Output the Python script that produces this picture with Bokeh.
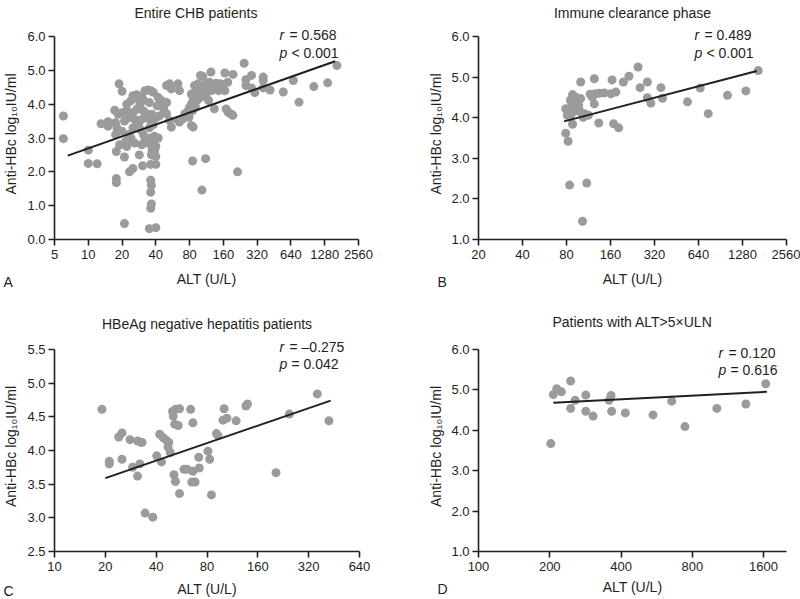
import math
from bokeh.plotting import figure
from bokeh.layouts import column, row
from bokeh.models import Label, Title, FixedTicker, PrintfTickFormatter, Range1d
from bokeh.embed import file_html
from bokeh.resources import INLINE

FONT = "Liberation Sans"
PT = "#9b9b9b"
INK = "#231f20"

# ---------------- Panel A: Entire CHB patients ----------------
alt_a = [6.0, 6.0, 10.0, 10.0, 12.0, 13.0, 15.0, 15.0, 17.2, 17.5, 17.8, 17.8, 17.8,
         18.8, 20.0, 21.0, 21.0, 22.0, 23.3, 25.0, 28.5, 30.5, 35.0, 36.0, 36.0, 36.5,
         36.0, 36.5, 36.0, 40.0, 40.0, 39.0, 40.0, 22.5,
         25, 27, 30, 32, 34, 36, 38, 42, 45, 28,
         22, 24, 29, 31, 35, 41, 44, 47, 20,
         18.5, 22, 25, 27, 31, 33, 37, 40, 43,
         17.5, 21, 23, 26, 28, 30, 34, 36, 38,
         18, 20, 23, 25, 29, 31, 35, 39, 42,
         19, 21.5, 24, 26, 30, 32, 34, 36, 38, 40, 36.5, 37,
         47, 50,
         49.8, 53, 63, 55, 65, 88.5, 100, 105, 124, 165, 195,
         83, 86, 88, 83, 80, 78, 85, 90, 93, 97, 102, 108, 111, 118, 125, 132, 145, 165,
         118, 133, 92, 95, 98, 90, 100, 104, 112, 120, 128, 138, 150, 175, 158,
         169, 176, 185, 194,
         49.7, 53, 55, 63, 65, 70, 72.6, 79, 83, 86,
         214, 103, 85, 111,
         245, 254, 254, 285, 285, 305, 362, 362, 362, 417, 547, 672, 755, 1024, 1360, 1645]
hbc_a = [3.65, 2.98, 2.64, 2.25, 2.24, 3.42, 3.48, 3.35, 3.82, 3.10, 2.60, 1.80, 1.68,
         4.60, 4.38, 2.44, 0.47, 2.75, 2.00, 2.10, 2.50, 2.18, 0.32, 2.22, 1.75, 1.60,
         1.40, 1.05, 0.92, 0.35, 2.22, 2.60, 2.45, 2.85,
         4.25, 4.28, 4.22, 4.40, 4.42, 4.40, 4.35, 4.20, 4.10, 4.15,
         4.00, 4.10, 4.00, 4.12, 4.05, 3.95, 4.00, 3.85, 3.75,
         3.70, 3.82, 3.75, 3.85, 3.80, 3.72, 3.70, 3.60, 3.65,
         3.45, 3.50, 3.60, 3.55, 3.40, 3.55, 3.60, 3.50, 3.40,
         3.30, 3.20, 3.10, 3.30, 3.25, 3.10, 3.30, 3.05, 3.00,
         2.80, 2.90, 3.00, 2.85, 2.80, 2.95, 2.85, 3.00, 2.90, 2.75, 2.50, 2.65,
         3.95, 4.05,
         4.55, 4.60, 4.60, 4.45, 4.40, 4.55, 4.85, 4.82, 4.95, 4.92, 4.88,
         4.30, 4.20, 4.11, 4.01, 3.91, 3.81, 3.81, 3.91, 4.11, 4.30, 4.40, 4.35, 4.25, 4.45, 4.40, 4.45, 4.40, 4.40,
         4.11, 3.86, 4.50, 4.60, 4.45, 4.35, 4.20, 4.55, 4.60, 4.65, 4.55, 4.62, 4.60, 4.65, 4.58,
         3.86, 3.77, 3.72, 3.67,
         3.72, 3.52, 3.32, 3.52, 3.47, 3.57, 3.72, 3.62, 3.37, 3.32,
         2.00, 1.46, 2.32, 2.39,
         5.21, 4.72, 4.55, 4.85, 4.48, 4.34, 4.80, 4.70, 4.48, 4.42, 4.36, 4.70, 4.06, 4.52, 4.63, 5.14]
fit_x_a = [6.56, 1587]
fit_y_a = [2.48, 5.27]

# ---------------- Panel B: Immune clearance phase ----------------
alt_b = [79, 81, 79, 82, 84, 110, 103, 88,
         88, 92, 90, 95, 100, 97, 94, 100, 104, 106, 113, 85, 83, 85, 88,
         100, 120, 124, 126, 124, 133, 145, 161, 174, 164, 168, 182, 196, 214, 247, 255,
         286, 286, 302, 354, 363, 538, 658, 746, 1010, 1350, 1640, 134, 116]
hbc_b = [4.22, 4.06, 3.62, 3.42, 2.34, 2.39, 1.45, 3.84,
         4.57, 4.51, 4.34, 4.43, 4.47, 4.30, 4.18, 4.14, 4.01, 4.10, 4.06, 4.43, 4.22, 4.01, 4.14,
         4.88, 4.51, 4.96, 4.59, 4.34, 3.87, 4.61, 4.59, 4.63, 4.93, 3.85, 3.75, 4.88, 5.02, 5.25, 4.74,
         4.88, 4.49, 4.36, 4.74, 4.48, 4.39, 4.73, 4.10, 4.55, 4.66, 5.16, 4.60, 4.58]
fit_x_b = [77, 1604]
fit_y_b = [3.91, 5.15]

# ---------------- Panel C: HBeAg negative hepatitis patients ----------------
alt_c = [19.1, 21.1, 21.1, 24, 25.1, 25.1, 28, 31.1, 32.5, 33, 29, 32, 31, 34.4, 38.2,
         40.3, 43, 42, 44, 46, 47.5, 47, 48.5, 50, 52, 55, 50.5, 51.5, 54, 64, 66,
         51, 52, 55, 58.5, 61, 65, 68, 66, 72, 71.5, 81, 83, 85, 91, 93,
         101, 99.5, 105, 119, 136, 139, 205, 246, 360, 422]
hbc_c = [4.61, 3.84, 3.80, 4.20, 4.26, 3.87, 4.16, 4.14, 4.12, 4.12, 3.75, 3.80, 3.62, 3.07, 3.01,
         3.92, 3.83, 4.24, 4.19, 4.15, 4.12, 4.05, 3.97, 4.58, 4.61, 4.62, 4.51, 4.39, 4.37, 4.61, 4.41,
         3.64, 3.54, 3.36, 3.72, 3.72, 3.53, 3.53, 3.69, 3.74, 3.90, 3.99, 3.87, 3.34, 4.25, 4.22,
         4.62, 4.45, 4.48, 4.44, 4.66, 4.69, 3.67, 4.54, 4.84, 4.44]
fit_x_c = [20, 432]
fit_y_c = [3.59, 4.74]

# ---------------- Panel D: Patients with ALT>5xULN ----------------
alt_d = [202, 207, 214, 224, 245, 245, 256, 284, 284, 305, 356, 363, 365,
         417, 546, 655, 745, 1016, 1347, 1634]
hbc_d = [3.67, 4.88, 5.03, 4.95, 5.22, 4.54, 4.74, 4.87, 4.47, 4.35, 4.74, 4.86, 4.47,
         4.43, 4.38, 4.72, 4.09, 4.54, 4.65, 5.15]
fit_x_d = [207, 1653]
fit_y_d = [4.68, 4.95]

ticks_a = [5, 10, 20, 40, 80, 160, 320, 640, 1280, 2560]
ticks_b = [20, 40, 80, 160, 320, 640, 1280, 2560]
ticks_c = [10, 20, 40, 80, 160, 320, 640]
ticks_d = [100, 200, 400, 800, 1600]
yticks_a = [0, 1, 2, 3, 4, 5, 6]
yticks_b = [1, 2, 3, 4, 5, 6]
yticks_c = [2.5, 3.0, 3.5, 4.0, 4.5, 5.0, 5.5]
yticks_d = [1, 2, 3, 4, 5, 6]

YLAB = "Anti-HBc log\u2081\u2080IU/ml"
XLAB = "ALT (U/L)"


def panel(title, xr, yr, xticks, yticks, xs, ys, fx, fy, W, H, L, R, T, B, axis_h,
          t_stand, xl_stand, yl_stand, letter, letter_x, letter_stand, multiline=False,
          title_left=None):
    # frame is extended a few px above the top tick so that the r/p notes fit;
    # the visible axis stops at the top tick via bounds
    frame_h = H - T - B
    extra = frame_h - axis_h
    ytop = yr[1] + extra * (yr[1] - yr[0]) / axis_h
    p = figure(width=W, height=H, x_axis_type="log",
               x_range=Range1d(*xr), y_range=Range1d(yr[0], ytop),
               output_backend="svg", toolbar_location=None,
               min_border_left=L, min_border_right=R, min_border_top=T, min_border_bottom=B)
    p.outline_line_color = None
    p.grid.visible = False
    p.title.text = title + ("\n" if multiline else "")
    if title_left is None:
        p.title.align = "center"
    else:
        p.title.align = "left"
        p.title.offset = title_left
    p.title.text_font = FONT
    p.title.text_font_size = "14px"
    p.title.text_font_style = "normal"
    p.title.text_color = INK
    p.title.standoff = t_stand
    if multiline:
        p.title.text_line_height = 0.5
    for ax in (p.xaxis, p.yaxis):
        ax.axis_line_color = INK
        ax.axis_line_width = 1.6
        ax.major_tick_line_color = INK
        ax.major_tick_line_width = 1.6
        ax.major_tick_out = 6
        ax.major_tick_in = 0
        ax.minor_tick_line_color = None
        ax.major_label_text_font = FONT
        ax.major_label_text_font_size = "13px"
        ax.major_label_text_color = INK
        ax.axis_label_text_font = FONT
        ax.axis_label_text_font_size = "14px"
        ax.axis_label_text_font_style = "normal"
        ax.axis_label_text_color = INK
    p.xaxis.ticker = FixedTicker(ticks=xticks)
    p.xaxis.formatter = PrintfTickFormatter(format="%d")
    p.xaxis.major_label_standoff = 4
    p.xaxis.axis_label = XLAB
    p.xaxis.axis_label_standoff = xl_stand
    p.yaxis.ticker = FixedTicker(ticks=yticks)
    p.yaxis.bounds = (yr[0], yr[1])
    p.yaxis.formatter = PrintfTickFormatter(format="%.1f")
    p.yaxis.major_label_standoff = 3
    p.yaxis.axis_label = YLAB
    p.yaxis.axis_label_standoff = yl_stand
    p.add_layout(Title(text=letter, align="left", offset=-(L - letter_x), vertical_align="top",
                       standoff=letter_stand, text_font=FONT, text_font_size="14px",
                       text_font_style="normal", text_color=INK), "below")
    p.scatter(xs, ys, size=9, fill_color=PT, line_color=None)
    p.line(fx, fy, line_color=INK, line_width=2)
    return p


def put(p, fl, fb, px, py, text, align="left", style="normal"):
    p.add_layout(Label(x=px - fl, y=fb - py, x_units="screen", y_units="screen",
                       text=text, text_align=align, text_baseline="middle",
                       text_font=FONT, text_font_size="14px",
                       text_font_style=style, text_color=INK))


pa = panel("Entire CHB patients", (5, 2560), (0, 6), ticks_a, yticks_a, alt_a, hbc_a,
           fit_x_a, fit_y_a, 400, 300, 52, 42, 28, 61, 203, 0, 9, 5, "A", 1, -31,
           multiline=True, title_left=80)
pb = panel("Immune clearance phase", (20, 2560), (1, 6), ticks_b, yticks_b, alt_b, hbc_b,
           fit_x_b, fit_y_b, 400, 300, 78, 14, 28, 61, 203, 0, 9, 4, "B", 37, -31, multiline=True)
pc = panel("HBeAg negative hepatitis patients", (10, 640), (2.5, 5.5), ticks_c, yticks_c,
           alt_c, hbc_c, fit_x_c, fit_y_c, 400, 299, 52, 41, 40, 47, 204, 19, 7, 5, "C", 1, -34)
pd = panel("Patients with ALT>5\u00d7ULN", (100, 2000), (1, 6), ticks_d, yticks_d,
           alt_d, hbc_d, fit_x_d, fit_y_d, 400, 299, 78, 14, 40, 47, 204, 23, 5, 4, "D", 37, -34)

# A (frame left 52, bottom 239 in page px)
fl, fb = 52, 239
put(pa, fl, fb, 277, 34, "r", style="italic")
put(pa, fl, fb, 287, 34, "= 0.568")
put(pa, fl, fb, 277, 52, "p", style="italic")
put(pa, fl, fb, 289, 52, "< 0.001")

# B
fl, fb = 478, 239
put(pb, fl, fb, 694, 34, "r", style="italic")
put(pb, fl, fb, 704, 34, "= 0.489")
put(pb, fl, fb, 694, 52, "p", style="italic")
put(pb, fl, fb, 706, 52, "< 0.001")

# C
fl, fb = 52, 552
put(pc, fl, fb, 277, 347, "r", style="italic")
put(pc, fl, fb, 287, 347, "= \u20130.275")
put(pc, fl, fb, 277, 364, "p", style="italic")
put(pc, fl, fb, 289, 364, "= 0.042")

# D
fl, fb = 478, 552
put(pd, fl, fb, 718, 353, "r", style="italic")
put(pd, fl, fb, 728, 353, "= 0.120")
put(pd, fl, fb, 718, 370, "p", style="italic")
put(pd, fl, fb, 730, 370, "= 0.616")

layout = column(row(pa, pb), row(pc, pd))
open("out.html", "w").write(file_html(layout, INLINE))
